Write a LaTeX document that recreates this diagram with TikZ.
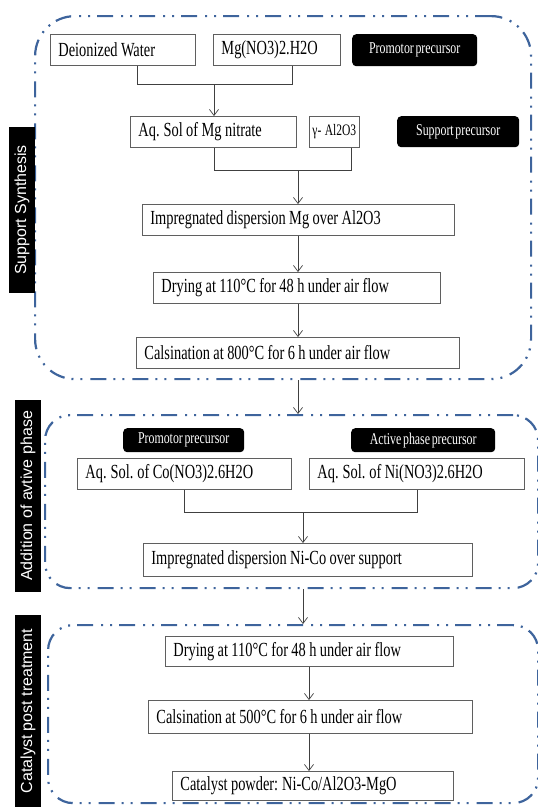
\documentclass[tikz,border=0pt]{standalone}
\usepackage{fontspec}
\setmainfont{Liberation Serif}[FakeStretch=0.72, WordSpace=0.55]
\newfontfamily\sidefont{Liberation Sans}
\usetikzlibrary{arrows.meta}

\definecolor{frameblue}{RGB}{62,100,156}
\definecolor{boxgray}{RGB}{95,95,95}

\tikzset{
    stepbox/.style={draw=boxgray, line width=0.9pt, anchor=north west, inner xsep=8pt, inner ysep=0pt,
        minimum height=31pt, align=left, font=\fontsize{20}{22}\selectfont,
        execute at begin node={\spaceskip=3.4pt plus 1pt\xspaceskip=4pt\relax}},
    tagbox/.style={fill=black, text=white, rounded corners=4pt, anchor=north west, inner sep=0pt,
        minimum height=31pt, font=\fontsize{16.5}{18}\selectfont},
    sidetag/.style={fill=black, text=white, rotate=90, inner sep=0pt, minimum height=26pt,
        font=\sidefont\fontsize{16}{18}\selectfont},
    stage/.style={draw=frameblue, line width=2.2pt, anchor=north west, inner sep=0pt,
        dash pattern=on 16pt off 7pt on 2pt off 7pt on 2pt off 8pt},
    link/.style={draw=black!75, line width=0.7pt},
    arr/.style={link, -{Straight Barb[length=6pt,width=9pt]}}
}

\begin{document}
\begin{tikzpicture}[x=1pt, y=-1pt]
        \useasboundingbox (0,0) rectangle (538,807);

        % dashed stage frames
        \node[stage, rounded corners=40pt, minimum width=496pt, minimum height=363pt] (sup) at (34,15) {};
        \node[stage, rounded corners=25pt, minimum width=493pt, minimum height=173pt] (act) at (44,414) {};
        \node[stage, rounded corners=25pt, minimum width=490pt, minimum height=178pt] (post) at (47,624) {};

        % support synthesis
        \node[stepbox, text width=129pt] (dw) at (50,34) {Deionized Water};
        \node[stepbox, text width=111pt] (mg) at (213,34) {Mg(NO3)2.H2O};
        \node[tagbox, minimum width=125pt, minimum height=32pt] (promo1) at (352,34) {Promotor precursor};
        \node[stepbox, text width=150pt] (aq) at (130,116) {Aq. Sol of Mg nitrate};
        \node[stepbox, inner xsep=3pt, minimum width=49pt, font=\fontsize{16}{18}\selectfont] (gam) at (309,116) {γ- Al2O3};
        \node[tagbox, minimum width=122pt] (supp) at (397,116) {Support precursor};
        \node[stepbox, text width=296pt] (imp1) at (142,204) {Impregnated dispersion Mg over Al2O3};
        \node[stepbox, text width=271pt] (dry1) at (153,272) {Drying at 110°C for 48 h under air flow};
        \node[stepbox, text width=307pt] (cal1) at (136,337) {Calsination at 800°C for 6 h under air flow};

        \coordinate (j1l) at (137,84);
        \coordinate (j1r) at (292,84);
        \coordinate (j1) at (214,84);
        \coordinate (j2l) at (214,170);
        \coordinate (j2r) at (351,170);
        \coordinate (j2) at (298,170);

        \draw[link] (dw.south -| j1l) -- (j1l) -- (j1r) -- (mg.south -| j1r);
        \draw[arr] (j1) -- (aq.north -| j1);
        \draw[link] (aq.south -| j2l) -- (j2l) -- (j2r) -- (gam.south -| j2r);
        \draw[arr] (j2) -- (imp1.north -| j2);
        \draw[arr] (imp1.south -| j2) -- (dry1.north -| j2);
        \draw[arr] (dry1.south -| j2) -- (cal1.north -| j2);

        % addition of active phase
        \node[tagbox, minimum width=121pt, minimum height=24pt] (promo2) at (123,428) {Promotor precursor};
        \node[tagbox, minimum width=144pt, minimum height=24pt] (actp) at (351,428) {Active phase precursor};
        \node[stepbox, text width=198pt] (co) at (77,458) {Aq. Sol. of Co(NO3)2.6H2O};
        \node[stepbox, text width=199pt] (ni) at (309,458) {Aq. Sol. of Ni(NO3)2.6H2O};
        \node[stepbox, text width=313pt, minimum height=33pt] (imp2) at (143,543) {Impregnated dispersion Ni-Co over support};

        \coordinate (j3l) at (184,512);
        \coordinate (j3r) at (417,512);
        \coordinate (j3) at (303,512);

        \draw[link] (co.south -| j3l) -- (j3l) -- (j3r) -- (ni.south -| j3r);
        \draw[arr] (j3) -- (imp2.north -| j3);

        % catalyst post treatment
        \node[stepbox, text width=272pt, minimum height=30pt] (dry2) at (165,636) {Drying at 110°C for 48 h under air flow};
        \node[stepbox, text width=308pt, minimum height=33pt] (cal2) at (148,700) {Calsination at 500°C for 6 h under air flow};
        \node[stepbox, text width=265pt, minimum height=29pt] (cat) at (172,771) {Catalyst powder: Ni-Co/Al2O3-MgO};

        \coordinate (j4) at (309,666);
        \draw[arr] (dry2.south -| j4) -- (cal2.north -| j4);
        \draw[arr] (cal2.south -| j4) -- (cat.north -| j4);

        % between stages
        \draw[arr] (sup.south -| j2) -- (act.north -| j2);
        \draw[arr] (act.south -| j3) -- (post.north -| j3);

        % side labels
        \node[sidetag, minimum width=166pt] (s1) at (22,210) {Support Synthesis};
        \node[sidetag, minimum width=192pt] (s2) at (28,496) {Addition of avtive phase};
        \node[sidetag, minimum width=192pt] (s3) at (28,711) {Catalyst post treatment};
    \end{tikzpicture}
\end{document}
